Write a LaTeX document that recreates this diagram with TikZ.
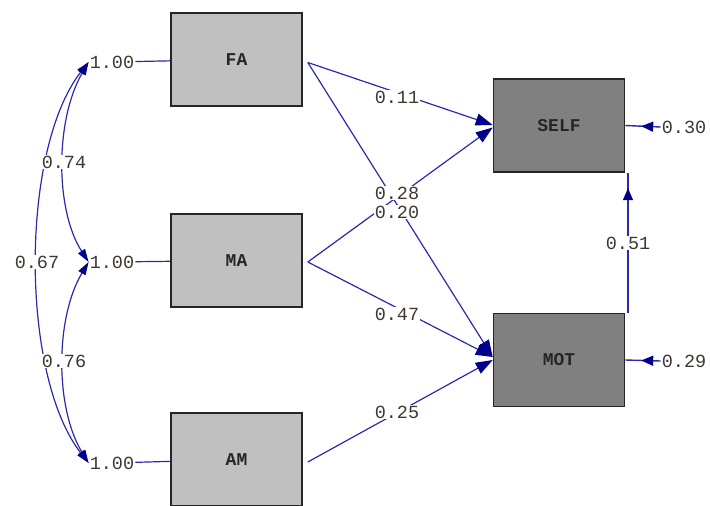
\documentclass[tikz,border=0pt]{standalone}
\usepackage{fontspec}
\setmonofont{Liberation Mono}
\usetikzlibrary{arrows.meta,decorations.markings}
\definecolor{pathblue}{HTML}{2A2AB0}
\definecolor{tipblue}{HTML}{00008C}
\definecolor{lightbox}{HTML}{C0C0C0}
\definecolor{darkbox}{HTML}{808080}
\definecolor{numtext}{HTML}{403830}
\begin{document}
\begin{tikzpicture}[x=1pt,y=-1pt,
  obs/.style={draw=black!85, line width=1.6pt, fill=lightbox, minimum width=131pt, minimum height=93pt, inner sep=0pt, font=\ttfamily\bfseries\fontsize{18}{18}\selectfont, text=black!85},
  endo/.style={obs, fill=darkbox},
  num/.style={font=\ttfamily\fontsize{18.5}{18.5}\selectfont, text=numtext, fill=white, inner sep=1pt},
  var/.style={font=\ttfamily\fontsize{18.5}{18.5}\selectfont, text=numtext, inner sep=1pt},
  link/.style={draw=pathblue, line width=1.2pt, -{Triangle[length=17pt,width=12pt,color=tipblue]}},
  plain/.style={draw=pathblue, line width=1.2pt},
  cov/.style={draw=pathblue, line width=1.2pt, {Triangle[length=13pt,width=8pt,color=tipblue]}-{Triangle[length=13pt,width=8pt,color=tipblue]}},
  midtip/.style={draw=pathblue, line width=1.4pt, postaction={decorate},
    decoration={markings, mark=at position #1 with {\arrow{Triangle[length=12pt,width=10pt,color=tipblue]}}}}
]
\useasboundingbox (0,0) rectangle (710,506);
\begin{scope}
\clip (0,0) rectangle (710,506);
% boxes
\node[obs] (FA) at (236.5,59.5) {FA};
\node[obs] (MA) at (236.5,260.5) {MA};
\node[obs] (AM) at (236.5,459.5) {AM};
\node[endo] (SELF) at (559,125.5) {SELF};
\node[endo] (MOT) at (559,360) {MOT};
% variance labels
\node[var] (v1) at (112,62) {1.00};
\node[var] (v2) at (112,262) {1.00};
\node[var] (v3) at (112,463) {1.00};
\draw[plain] (v1) -- (FA);
\draw[plain] (v2) -- (MA);
\draw[plain] (v3) -- (AM);
% covariances
\draw[cov] (v1.west) .. controls (55,120) and (55,210) .. (v2.west);
\draw[cov] (v2.west) .. controls (55,318) and (55,408) .. (v3.west);
\draw[cov] (v1.west) .. controls (20,150) and (20,375) .. (v3.west);
\node[num] (c1) at (64,162) {0.74};
\node[num] (c2) at (37,262) {0.67};
\node[num] (c3) at (64,361) {0.76};
% structural paths
\draw[link] ([shift={(5,3)}]FA.east) -- ([shift={(0,-0.5)}]SELF.west);
\draw[link] ([shift={(5,3)}]FA.east) -- ([shift={(0,-3)}]MOT.west);
\draw[link] ([shift={(5,1.5)}]MA.east) -- ([shift={(0,2)}]SELF.west);
\draw[link] ([shift={(5,1.5)}]MA.east) -- ([shift={(0,-3)}]MOT.west);
\draw[link] ([shift={(5,2.5)}]AM.east) -- (MOT.west);
\node[num] (p1) at (397,97) {0.11};
\node[num] (p2) at (397,193) {0.28};
\node[num] (p3) at (397,212) {0.20};
\node[num] (p4) at (397,314) {0.47};
\node[num] (p5) at (397,412) {0.25};
% error terms
\node[var] (e1) at (684,127) {0.30};
\node[var] (e2) at (684,361) {0.29};
\draw[midtip=0.55] (e1.west) -- (SELF.east);
\draw[midtip=0.55] (e2.west) -- (MOT.east);
% MOT -> SELF
\draw[midtip=0.89] ([xshift=69pt]MOT.north) -- ([xshift=69pt]SELF.south);
\node[num] (b1) at (628,243) {0.51};
\end{scope}
\end{tikzpicture}
\end{document}
